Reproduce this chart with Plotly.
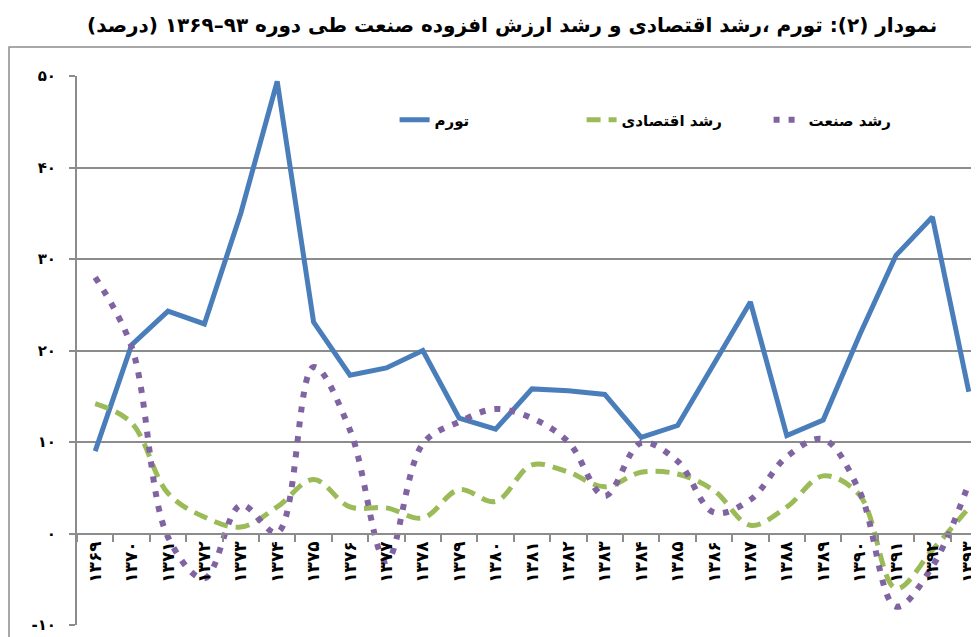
import plotly.graph_objects as go

# سال‌ها (۱۳۶۹ تا ۱۳۹۳)
years = ["۱۳۶۹", "۱۳۷۰", "۱۳۷۱", "۱۳۷۲", "۱۳۷۳", "۱۳۷۴", "۱۳۷۵", "۱۳۷۶", "۱۳۷۷",
         "۱۳۷۸", "۱۳۷۹", "۱۳۸۰", "۱۳۸۱", "۱۳۸۲", "۱۳۸۳", "۱۳۸۴", "۱۳۸۵", "۱۳۸۶",
         "۱۳۸۷", "۱۳۸۸", "۱۳۸۹", "۱۳۹۰", "۱۳۹۱", "۱۳۹۲", "۱۳۹۳"]

tavarrom = [9.0, 20.6, 24.3, 22.9, 35.0, 49.4, 23.1, 17.3, 18.1, 20.0, 12.6, 11.4, 15.8,
            15.6, 15.2, 10.5, 11.8, 18.5, 25.3, 10.7, 12.4, 21.7, 30.4, 34.6, 15.5]
roshd_eghtesadi = [14.2, 12.1, 4.4, 1.8, 0.7, 2.9, 5.9, 2.9, 2.8, 1.7, 4.8, 3.5, 7.5,
                   6.7, 5.1, 6.7, 6.5, 4.7, 0.9, 2.9, 6.3, 4.2, -6.0, -1.8, 2.8]
roshd_sanat = [28.0, 20.4, -0.4, -4.9, 3.1, 0.1, 18.2, 11.3, -3.0, 9.8, 12.2, 13.6, 12.6,
               10.0, 4.1, 9.9, 7.9, 2.3, 3.7, 8.4, 10.3, 4.6, -8.0, -3.6, 5.5]

y_ticks = [-10, 0, 10, 20, 30, 40, 50]
y_labels = ["-۱۰", "۰", "۱۰", "۲۰", "۳۰", "۴۰", "۵۰"]

title = "\u202bنمودار (۲): تورم ،رشد اقتصادی و رشد ارزش افزوده صنعت طی دوره ۹۳–۱۳۶۹ (درصد)\u202c"

FONT = "DejaVu Sans"
GRID = "#8c8c8c"

fig = go.Figure()
fig.add_trace(go.Scatter(x=years, y=tavarrom, name="تورم", mode="lines",
                         line=dict(color="#4a7ebb", width=5)))
fig.add_trace(go.Scatter(x=years, y=roshd_eghtesadi, name="رشد اقتصادی", mode="lines",
                         line=dict(color="#9bbb59", width=5, dash="14px,8px", shape="spline")))
fig.add_trace(go.Scatter(x=years, y=roshd_sanat, name="رشد صنعت", mode="lines",
                         line=dict(color="#8064a2", width=6, dash="6px,9px", shape="spline")))

# کادر بیرونی نمودار
fig.add_shape(type="rect", xref="paper", yref="paper", x0=-0.0747, x1=1.05, y0=-0.05, y1=1.053,
              line=dict(color="#8c8c8c", width=1.5), layer="below")

fig.update_layout(
    width=979, height=637,
    margin=dict(l=69, r=0, t=68, b=20),
    paper_bgcolor="white", plot_bgcolor="white",
    font=dict(family=FONT, color="black"),
    title=dict(text=title, x=0.515, xanchor="center", y=0.973, yanchor="middle",
               font=dict(family=FONT, size=20, color="black", weight="bold")),
    showlegend=True,
    legend=dict(orientation="h", x=0.349, y=0.92, xanchor="left", yanchor="middle",
                font=dict(family=FONT, size=15, weight="bold"), entrywidth=142,
                bgcolor="rgba(0,0,0,0)"),
    xaxis=dict(type="category", range=[-0.5, 24.5], anchor="free", position=10 / 60,
               automargin=False,
               showline=True, linecolor=GRID, linewidth=2, showgrid=False,
               ticks="outside", tickson="boundaries", ticklen=7, tickcolor=GRID, tickwidth=2,
               tickangle=-90, tickfont=dict(family=FONT, size=17, weight="bold"), zeroline=False),
    yaxis=dict(range=[-10, 50], tickvals=y_ticks, ticktext=y_labels, automargin=False,
               showline=True, linecolor=GRID, linewidth=2,
               showgrid=True, gridcolor=GRID, gridwidth=2, zeroline=False,
               ticks="outside", ticklen=6, tickcolor=GRID, tickwidth=2,
               tickfont=dict(family=FONT, size=15, weight="bold"), ticklabelstandoff=10),
)

fig.write_html("out.html")
